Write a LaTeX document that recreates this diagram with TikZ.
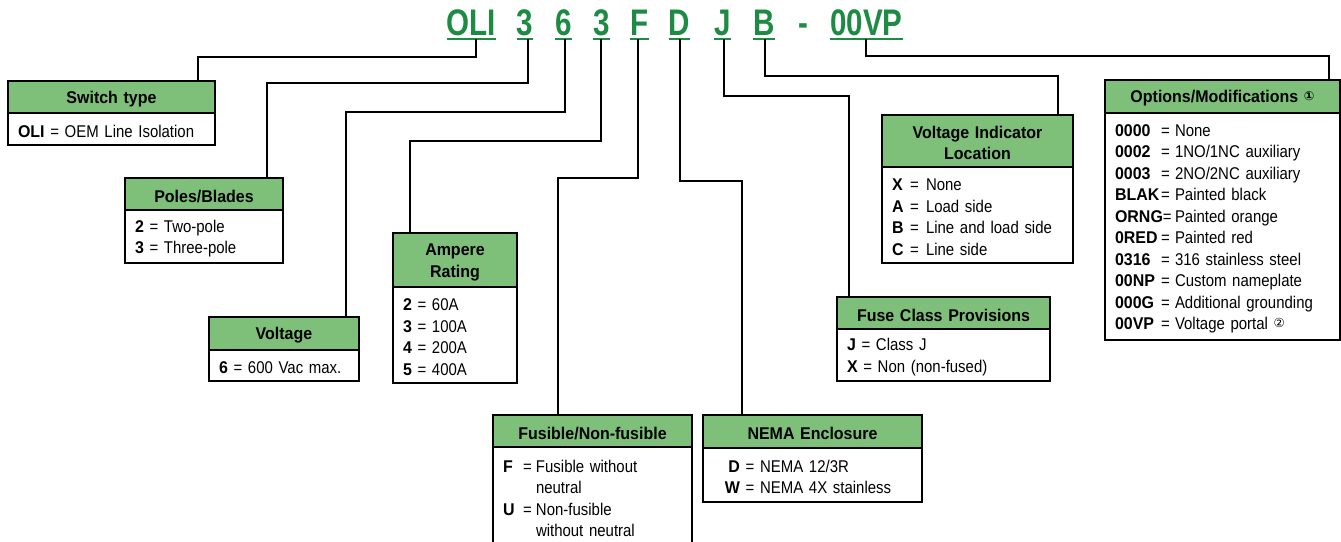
\documentclass[tikz,border=0pt]{standalone}
\usepackage{fontspec}
\setmainfont{Liberation Sans}[UprightFeatures={FakeStretch=0.88},BoldFeatures={FakeStretch=0.94}]
\newfontfamily\codefont{Liberation Sans}[FakeStretch=0.8]
\newfontfamily\symfont{DejaVu Sans}
\usetikzlibrary{calc}
\definecolor{codegreen}{RGB}{30,139,69}
\definecolor{hdrgreen}{RGB}{126,192,122}
\newcommand\optrow[2]{\makebox[46pt][l]{\textbf{#1}}\makebox[14pt][l]{=}#2}
\newcommand\virow[2]{\makebox[18pt][l]{\textbf{#1}}\makebox[16pt][l]{=}#2}
\newcommand\fusrow[2]{\makebox[20pt][l]{\textbf{#1}}\makebox[13pt][l]{=}#2}
\newcommand\circnum[1]{\raisebox{2.5pt}{\symfont\fontsize{12.5}{12.5}\selectfont #1}}
\newcommand\specbox[8]{%
 \pgfmathsetmacro\sbW{#3-#2}%
 \pgfmathsetmacro\sbH{#5-#4}%
 \pgfmathsetmacro\sbB{#6-#5}%
 \pgfmathsetmacro\sbT{#3-#2-20}%
 \node[bodybox, minimum width=\sbW pt, minimum height=\sbB pt, text width=\sbT pt, anchor=north west] (#1b) at (#2,#5) {\rule{0pt}{16.5pt}#8};%
 \node[hdrbox, minimum width=\sbW pt, minimum height=\sbH pt, text width=\sbT pt, anchor=north west] (#1) at (#2,#4) {\rule{0pt}{16.5pt}#7};%
}
\tikzset{
 hdrbox/.style={draw, line width=2pt, fill=hdrgreen, outer sep=0pt, inner xsep=10pt, inner ysep=0pt, align=center, font=\fontsize{17}{21.5}\selectfont\bfseries},
 bodybox/.style={draw, line width=2pt, fill=white, outer sep=0pt, inner xsep=10pt, inner ysep=0pt, align=left, font=\fontsize{17}{21.5}\selectfont},
 conn/.style={line width=2pt},
 codetxt/.style={text=codegreen, font=\codefont\bfseries\fontsize{37}{40}\selectfont, inner sep=0pt, anchor=base},
 uline/.style={draw=codegreen, line width=2pt},
}
\begin{document}
\begin{tikzpicture}[x=1pt,y=-1pt]
\useasboundingbox (0,0) rectangle (1341,541);
\fill[white] (0,0) rectangle (1341,541);
% catalog code
\node[codetxt] (cOLI) at (471.5,35) {OLI};
\node[codetxt] (cP) at (525,35) {3};
\node[codetxt] (cV) at (563.5,35) {6};
\node[codetxt] (cA) at (601.5,35) {3};
\node[codetxt] (cF) at (639.5,35) {F};
\node[codetxt] (cD) at (679.5,35) {D};
\node[codetxt] (cJ) at (722.5,35) {J};
\node[codetxt] (cB) at (764,35) {B};
\node[codetxt] (cdash) at (803,35) {-};
\node[codetxt] (cO) at (866.5,35) {00VP};
\foreach \n in {cOLI,cP,cV,cA,cF,cD,cJ,cB,cO}
  \draw[uline] ([yshift=-3.5pt]\n.base west) -- ([yshift=-3.5pt]\n.base east);
% boxes
\specbox{sw}{8}{215}{81}{113}{145}{Switch type}{\textbf{OLI} = OEM Line Isolation}
\specbox{pol}{125}{283}{178}{210}{263}{Poles/Blades}{\textbf{2} = Two-pole\\\textbf{3} = Three-pole}
\specbox{vol}{209}{359}{317}{350}{381}{Voltage}{\textbf{6} = 600 Vac max.}
\specbox{amp}{393}{517}{233}{287}{383}{Ampere\\Rating}{\textbf{2} = 60A\\\textbf{3} = 100A\\\textbf{4} = 200A\\\textbf{5} = 400A}
\specbox{fus}{493}{692}{415}{447}{546}{Fusible/Non-fusible}{\fusrow{F}{Fusible without}\\\hspace*{33pt}neutral\\\fusrow{U}{Non-fusible}\\\hspace*{33pt}without neutral}
\specbox{nema}{703}{922}{415}{448}{502}{NEMA Enclosure}{\makebox[27pt][r]{\textbf{D}} = NEMA 12/3R\\\makebox[27pt][r]{\textbf{W}} = NEMA 4X stainless}
\specbox{fc}{837}{1050}{297}{329}{381}{Fuse Class Provisions}{\textbf{J} = Class J\\\textbf{X} = Non (non-fused)}
\specbox{vi}{882}{1073}{115}{167}{263}{Voltage Indicator\\Location}{\virow{X}{None}\\\virow{A}{Load side}\\\virow{B}{Line and load side}\\\virow{C}{Line side}}
\specbox{opt}{1105}{1340}{80}{113}{340}{Options/Modifications \circnum{①}}{\optrow{0000}{None}\\\optrow{0002}{1NO/1NC auxiliary}\\\optrow{0003}{2NO/2NC auxiliary}\\\optrow{BLAK}{Painted black}\\\makebox[60pt][l]{\textbf{ORNG}=}Painted orange\\\optrow{0RED}{Painted red}\\\optrow{0316}{316 stainless steel}\\\optrow{00NP}{Custom nameplate}\\\optrow{000G}{Additional grounding}\\\optrow{00VP}{Voltage portal \circnum{②}}}
% connector start points
\coordinate (sOLI) at (476,39);
\coordinate (sP) at (528,39);
\coordinate (sV) at (565,39);
\coordinate (sA) at (601,39);
\coordinate (sF) at (638,39);
\coordinate (sD) at (680,39);
\coordinate (sJ) at (724,39);
\coordinate (sB) at (765,39);
\coordinate (sO) at (866,39);
% connectors
\draw[conn] (sOLI) -- ++(0,18) -| ($(sw.north west)+(190,0)$);
\draw[conn] (sP) -- ++(0,44) -| ($(pol.north west)+(142,0)$);
\draw[conn] (sV) -- ++(0,73) -| ($(vol.north west)+(137,0)$);
\draw[conn] (sA) -- ++(0,102) -| ($(amp.north west)+(17,0)$);
\draw[conn] (sF) -- ++(0,139) -| ($(fus.north west)+(65,0)$);
\draw[conn] (sD) -- ++(0,142) -| ($(nema.north west)+(39,0)$);
\draw[conn] (sJ) -- ++(0,57) -| ($(fc.north west)+(12,0)$);
\draw[conn] (sB) -- ++(0,37) -| ($(vi.north west)+(176,0)$);
\draw[conn] (sO) -- ++(0,17) -| ($(opt.north west)+(224,0)$);
\end{tikzpicture}
\end{document}
